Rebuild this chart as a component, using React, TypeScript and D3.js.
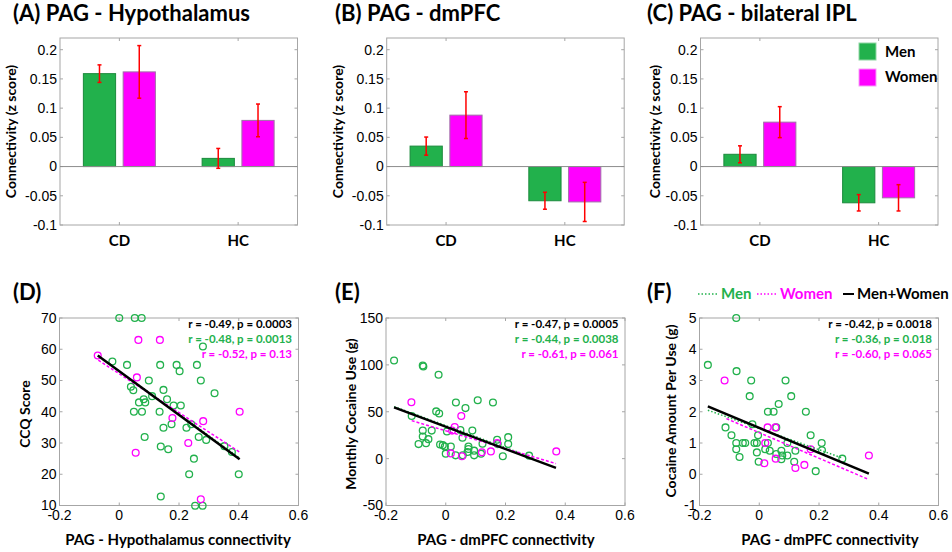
import React from 'react';
import * as d3 from 'd3';

// ---------- DATA ----------
const barGroups = ['CD', 'HC'];
const sexes = ['Men', 'Women'];
const barTicks = [-0.1, -0.05, 0, 0.05, 0.1, 0.15, 0.2];

// Panel A: PAG - Hypothalamus (mean, SE) for [CD, HC]
const hypoMen = [0.159, 0.014];
const hypoMenErr = [0.015, 0.017];
const hypoWomen = [0.162, 0.079];
const hypoWomenErr = [0.045, 0.028];
// Panel B: PAG - dmPFC
const dmpfcMen = [0.035, -0.0585];
const dmpfcMenErr = [0.0155, 0.0145];
const dmpfcWomen = [0.088, -0.0605];
const dmpfcWomenErr = [0.04, 0.0335];
// Panel C: PAG - bilateral IPL
const iplMen = [0.021, -0.062];
const iplMenErr = [0.0145, 0.014];
const iplWomen = [0.076, -0.0535];
const iplWomenErr = [0.0265, 0.0225];

const scatterXTicks = [-0.2, 0, 0.2, 0.4, 0.6];

// Panel D: PAG-Hypothalamus connectivity vs CCQ score
const dMen: [number, number][] = [
  [0, 70], [0.052, 70], [0.075, 70], [-0.023, 56.1], [0.026, 55], [0.137, 55], [0.192, 55],
  [0.202, 53], [0.26, 55], [0.28, 60.9], [0.099, 50], [0.273, 50], [0.039, 48], [0.047, 46.9],
  [0.148, 47], [0.319, 45.9], [0.11, 45], [0.082, 44], [0.16, 44], [0.066, 43], [0.087, 43],
  [0.182, 42], [0.206, 42], [0.049, 40], [0.076, 40], [0.135, 40], [0.175, 36], [0.148, 34.9],
  [0.225, 34.9], [0.241, 36], [0.085, 31.9], [0.266, 31.9], [0.291, 31], [0.139, 28.9],
  [0.164, 28], [0.352, 29], [0.377, 27.1], [0.25, 25], [0.4, 20], [0.234, 20], [0.139, 12.9],
  [0.254, 9.9], [0.279, 9.9],
];
const dWomen: [number, number][] = [
  [-0.072, 58], [0.064, 63], [0.136, 63], [0.059, 51], [0.178, 38], [0.281, 37], [0.231, 30],
  [0.055, 26.9], [0.403, 40], [0.273, 12],
];
const dFitAll: [number, number][] = [[-0.072, 58], [0.403, 24.8]];
const dFitMen: [number, number][] = [[-0.023, 54.6], [0.403, 25.2]];
const dFitWomen: [number, number][] = [[-0.07, 56.5], [0.403, 27.1]];
const dStats = ['r = -0.49, p = 0.0003', 'r = -0.48, p = 0.0013', 'r = -0.52, p = 0.13'];

// Panel E: PAG-dmPFC connectivity vs Monthly cocaine use
const eMen: [number, number][] = [
  [-0.173, 104.6], [-0.077, 99.3], [-0.075, 98.2], [-0.024, 89.4], [-0.114, 45.4], [-0.032, 50.4],
  [-0.022, 48.2], [0.034, 59.9], [0.066, 53.9], [0.107, 62.3], [0.158, 59.9], [-0.077, 29.9],
  [-0.077, 23.6], [-0.047, 29.9], [-0.091, 15.5], [-0.066, 16.5], [-0.058, 20.8], [-0.019, 15.1],
  [-0.01, 14.4], [-0.003, 13], [0, 5.3], [0.017, 13], [0.033, 3.5], [0.049, 30.6], [0.056, 22.2],
  [0.089, 29.9], [0.057, 3.5], [0.076, 13], [0.076, 10.2], [0.073, 7], [0.095, 3.5], [0.095, 8.5],
  [0.123, 15.8], [0.118, 5.3], [0.172, 20.1], [0.174, 15.5], [0.209, 22.9], [0.209, 15.5],
  [0.191, 2.5], [0.279, 3.2], [0.004, 28.9],
];
const eWomen: [number, number][] = [
  [-0.115, 60.2], [0.052, 45.4], [0.03, 33.8], [0.021, 29.9], [0.017, 5.6], [0.054, 2.5],
  [0.121, 6.7], [0.151, 7.7], [0.172, 16.5], [0.37, 7.7],
];
const eFitAll: [number, number][] = [[-0.173, 54.6], [0.369, -9.9]];
const eFitMen: [number, number][] = [[-0.173, 55.5], [0.279, 2.5]];
const eFitWomen: [number, number][] = [[-0.114, 40.5], [0.369, -5.3]];
const eStats = ['r = -0.47, p = 0.0005', 'r = -0.44, p = 0.0038', 'r = -0.61, p = 0.061'];

// Panel F: PAG-dmPFC connectivity vs Cocaine amount per use
const fMen: [number, number][] = [
  [-0.172, 3.5], [-0.077, 5], [-0.076, 3.3], [-0.027, 3], [-0.032, 2.5], [-0.113, 1.5],
  [-0.093, 1.25], [-0.077, 1], [-0.077, 0.8], [-0.066, 0.55], [-0.055, 1], [-0.047, 1],
  [-0.023, 1.6], [-0.016, 1], [-0.008, 1], [-0.004, 1.25], [-0.008, 0.7], [-0.002, 0.4],
  [0.029, 2], [0.048, 2], [0.065, 2.25], [0.088, 3], [0.107, 2.5], [0.156, 2], [0.057, 1.5],
  [0.029, 1], [0.02, 0.8], [0.035, 0.75], [0.057, 0.65], [0.074, 0.75], [0.077, 0.6],
  [0.074, 0.48], [0.094, 0.6], [0.094, 1], [0.121, 0.75], [0.117, 0.4], [0.172, 1.25],
  [0.189, 0.1], [0.209, 1], [0.21, 0.77], [0.278, 0.5],
];
const fWomen: [number, number][] = [
  [-0.116, 3], [0.028, 1.5], [0.054, 1.5], [0.02, 1], [0.017, 0.35], [0.055, 0.5],
  [0.121, 0.2], [0.151, 0.3], [0.172, 0.8], [0.367, 0.6],
];
const fFitAll: [number, number][] = [[-0.172, 2.17], [0.367, 0.02]];
const fFitMen: [number, number][] = [[-0.172, 2.05], [0.278, 0.52]];
const fFitWomen: [number, number][] = [[-0.11, 1.78], [0.367, -0.17]];
const fStats = ['r = -0.42, p = 0.0018', 'r = -0.36, p = 0.018', 'r = -0.60, p = 0.065'];

// ---------- STYLE ----------
const GREEN = '#22b14c';
const MAGENTA = '#ff00ff';
const BOXC = '#a6a6a6';
const BOLD = "Lato, 'Open Sans', sans-serif";
const TICKF = "'Liberation Sans', Arial, sans-serif";

const fmt = (v: number) => String(+v.toFixed(2));

function BarPanel(props: {
  left: number; title: string; titleX: number; labelX: number;
  men: number[]; menErr: number[]; women: number[]; womenErr: number[]; legend?: boolean;
}) {
  const { left, title, titleX, labelX, men, menErr, women, womenErr, legend } = props;
  const top = 38, bottom = 225, width = 237.5;
  const y = d3.scaleLinear().domain([-0.1, 0.22]).range([bottom, top]);
  const x = d3.scaleBand().domain(barGroups).range([left, left + width]);
  const inner = d3.scaleBand().domain(sexes).range([-36, 36]).paddingInner(0.19);
  const vals = [men, women];
  const errs = [menErr, womenErr];
  const fills = [GREEN, MAGENTA];
  const edges = ['#1b8a3c', '#a070a8'];
  return (
    <g>
      <text x={titleX} y={21} fontFamily={BOLD} fontWeight={700} fontSize={22}>{title}</text>
      <rect x={left} y={top} width={width} height={bottom - top} fill="white" stroke={BOXC} />
      {barTicks.map((t) => (
        <g key={t}>
          <line x1={left} x2={left + 3} y1={y(t)} y2={y(t)} stroke={BOXC} />
          <line x1={left + width - 3} x2={left + width} y1={y(t)} y2={y(t)} stroke={BOXC} />
          <text x={left - 3} y={y(t)} dy="0.35em" textAnchor="end" fontFamily={TICKF} fontSize={14}>{fmt(t)}</text>
        </g>
      ))}
      {barGroups.map((g) => {
        const cx = (x(g) as number) + x.bandwidth() / 2;
        return (
          <g key={g}>
            <line x1={cx} x2={cx} y1={bottom} y2={bottom - 3} stroke={BOXC} />
            <line x1={cx} x2={cx} y1={top} y2={top + 3} stroke={BOXC} />
            <text x={cx} y={246} textAnchor="middle" fontFamily={BOLD} fontWeight={700} fontSize={15}>{g}</text>
          </g>
        );
      })}
      {barGroups.map((g, gi) =>
        sexes.map((s, si) => {
          const bx = (x(g) as number) + x.bandwidth() / 2 + (inner(s) as number);
          const v = vals[si][gi];
          return (
            <rect key={g + s} x={bx} width={inner.bandwidth()} y={Math.min(y(v), y(0))}
              height={Math.abs(y(v) - y(0))} fill={fills[si]} stroke={edges[si]} strokeWidth={1} />
          );
        })
      )}
      <line x1={left} x2={left + width} y1={y(0)} y2={y(0)} stroke="#8c8c8c" />
      {barGroups.map((g, gi) =>
        sexes.map((s, si) => {
          const cx = (x(g) as number) + x.bandwidth() / 2 + (inner(s) as number) + inner.bandwidth() / 2;
          const v = vals[si][gi];
          const e = errs[si][gi];
          return (
            <g key={'e' + g + s} stroke="#ff0000" strokeWidth={1.5}>
              <line x1={cx} x2={cx} y1={y(v - e)} y2={y(v + e)} />
              <line x1={cx - 2} x2={cx + 2} y1={y(v - e)} y2={y(v - e)} />
              <line x1={cx - 2} x2={cx + 2} y1={y(v + e)} y2={y(v + e)} />
            </g>
          );
        })
      )}
      <text transform={`translate(${labelX},${(top + bottom) / 2}) rotate(-90)`} textAnchor="middle" dy="0.35em"
        fontFamily={BOLD} fontWeight={700} fontSize={14}>Connectivity (z score)</text>
      {legend && (
        <g>
          {sexes.map((s, si) => (
            <g key={s}>
              <rect x={859} y={43 + si * 26} width={17} height={17} fill={fills[si]} stroke={si === 0 ? '#8fd6a3' : '#f5a0f5'} />
              <text x={885} y={57 + si * 25} fontFamily={BOLD} fontWeight={700} fontSize={15}>{s}</text>
            </g>
          ))}
        </g>
      )}
    </g>
  );
}

function ScatterPanel(props: {
  left: number; title: string; titleX: number; labelX: number; labelY: number; yLabel: string;
  xLabel: string; xLabelX: number; yDomain: [number, number]; yTicks: number[];
  men: [number, number][]; women: [number, number][];
  fitAll: [number, number][]; fitMen: [number, number][]; fitWomen: [number, number][];
  stats: string[]; legend?: boolean;
}) {
  const p = props;
  const top = 318, bottom = 505.5, width = 239;
  const x = d3.scaleLinear().domain([-0.2, 0.6]).range([p.left, p.left + width]);
  const y = d3.scaleLinear().domain(p.yDomain).range([bottom, top]);
  const line = d3.line<[number, number]>().x((d) => x(d[0])).y((d) => y(d[1]));
  const statColors = ['#000000', GREEN, MAGENTA];
  const right = p.left + width;
  return (
    <g>
      <text x={p.titleX} y={300} fontFamily={BOLD} fontWeight={700} fontSize={22}>{p.title}</text>
      <rect x={p.left} y={top} width={width} height={bottom - top} fill="white" stroke={BOXC} />
      {p.yTicks.map((t) => (
        <g key={t}>
          <line x1={p.left} x2={p.left + 3} y1={y(t)} y2={y(t)} stroke={BOXC} />
          <line x1={right - 3} x2={right} y1={y(t)} y2={y(t)} stroke={BOXC} />
          <text x={p.left - 3} y={y(t)} dy="0.35em" textAnchor="end" fontFamily={TICKF} fontSize={14}>{t}</text>
        </g>
      ))}
      {scatterXTicks.map((t) => (
        <g key={t}>
          <line x1={x(t)} x2={x(t)} y1={bottom} y2={bottom - 3} stroke={BOXC} />
          <line x1={x(t)} x2={x(t)} y1={top} y2={top + 3} stroke={BOXC} />
          <text x={x(t)} y={520} textAnchor="middle" fontFamily={TICKF} fontSize={14}>{fmt(t)}</text>
        </g>
      ))}
      {p.men.map((d, i) => (
        <circle key={'m' + i} cx={x(d[0])} cy={y(d[1])} r={3.4} fill="none" stroke={GREEN} strokeWidth={1.3} />
      ))}
      {p.women.map((d, i) => (
        <circle key={'w' + i} cx={x(d[0])} cy={y(d[1])} r={3.4} fill="none" stroke={MAGENTA} strokeWidth={1.3} />
      ))}
      <path d={line(p.fitMen) || ''} stroke={GREEN} strokeWidth={1.5} strokeDasharray="1.5,2" fill="none" />
      <path d={line(p.fitWomen) || ''} stroke={MAGENTA} strokeWidth={1.5} strokeDasharray="3,2" fill="none" />
      <path d={line(p.fitAll) || ''} stroke="#000" strokeWidth={2.5} fill="none" />
      {p.stats.map((s, i) => (
        <text key={i} x={right - 6.5} y={327.5 + i * 15.2} textAnchor="end" fontFamily={BOLD} fontWeight={700}
          fontSize={11.5} fill={statColors[i]}>{s}</text>
      ))}
      <text transform={`translate(${p.labelX},${p.labelY}) rotate(-90)`} textAnchor="middle" dy="0.35em"
        fontFamily={BOLD} fontWeight={700} fontSize={14}>{p.yLabel}</text>
      <text x={p.xLabelX} y={545} textAnchor="middle" fontFamily={BOLD} fontWeight={700} fontSize={15}>{p.xLabel}</text>
      {p.legend && (
        <g fontFamily={BOLD} fontWeight={700} fontSize={15}>
          <line x1={698} x2={718} y1={294} y2={294} stroke={GREEN} strokeWidth={1.5} strokeDasharray="1.5,2" />
          <text x={721} y={299} fill={GREEN}>Men</text>
          <line x1={757} x2={777} y1={294} y2={294} stroke={MAGENTA} strokeWidth={1.5} strokeDasharray="1.5,2" />
          <text x={780} y={299} fill={MAGENTA}>Women</text>
          <line x1={843} x2={854} y1={294} y2={294} stroke="#000" strokeWidth={2} />
          <text x={857} y={299} fill="#000">Men+Women</text>
        </g>
      )}
    </g>
  );
}

export default function App() {
  return (
    <svg width={952} height={552} style={{ position: 'absolute', left: 0, top: 0, background: 'white' }}>
      <rect width={952} height={552} fill="white" />
      <BarPanel left={60} title="(A) PAG - Hypothalamus" titleX={13} labelX={11}
        men={hypoMen} menErr={hypoMenErr} women={hypoWomen} womenErr={hypoWomenErr} />
      <BarPanel left={386.7} title="(B) PAG - dmPFC" titleX={335} labelX={338}
        men={dmpfcMen} menErr={dmpfcMenErr} women={dmpfcWomen} womenErr={dmpfcWomenErr} />
      <BarPanel left={700.5} title="(C) PAG - bilateral IPL" titleX={647} labelX={655}
        men={iplMen} menErr={iplMenErr} women={iplWomen} womenErr={iplWomenErr} legend />
      <ScatterPanel left={59.5} title="(D)" titleX={13} labelX={25} labelY={414} yLabel="CCQ Score"
        xLabel="PAG - Hypothalamus connectivity" xLabelX={178} yDomain={[10, 70]} yTicks={[10, 20, 30, 40, 50, 60, 70]}
        men={dMen} women={dWomen} fitAll={dFitAll} fitMen={dFitMen} fitWomen={dFitWomen} stats={dStats} />
      <ScatterPanel left={386} title="(E)" titleX={335} labelX={351} labelY={414} yLabel="Monthly Cocaine Use (g)"
        xLabel="PAG - dmPFC connectivity" xLabelX={506} yDomain={[-50, 150]} yTicks={[-50, 0, 50, 100, 150]}
        men={eMen} women={eWomen} fitAll={eFitAll} fitMen={eFitMen} fitWomen={eFitWomen} stats={eStats} />
      <ScatterPanel left={699.5} title="(F)" titleX={647} labelX={671} labelY={411} yLabel="Cocaine Amount Per Use (g)"
        xLabel="PAG - dmPFC connectivity" xLabelX={830} yDomain={[-1, 5]} yTicks={[-1, 0, 1, 2, 3, 4, 5]}
        men={fMen} women={fWomen} fitAll={fFitAll} fitMen={fFitMen} fitWomen={fFitWomen} stats={fStats} legend />
    </svg>
  );
}
